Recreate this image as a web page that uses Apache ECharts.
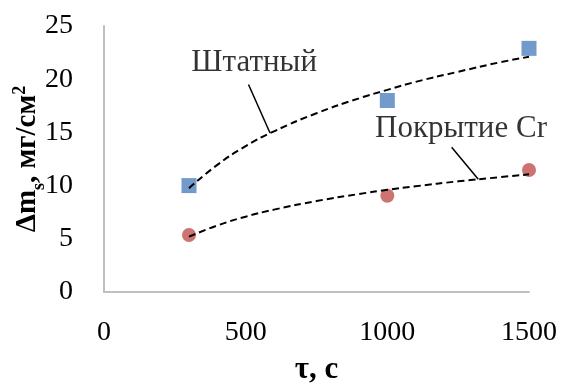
<!DOCTYPE html>
<html>
<head>
<meta charset="utf-8">
<script src="https://cdn.jsdelivr.net/npm/echarts@6/dist/echarts.min.js"></script>
<style>
  html, body { margin: 0; padding: 0; background: #fff; }
  #chart { width: 563px; height: 385px; }
</style>
</head>
<body>
<div id="chart"></div>
<script>
// Measured mass gain vs. exposure time
const timeS = [300, 1000, 1500];
const standardGain = [10, 18, 22.9];     // Штатный
const coatedGain = [5.36, 9.05, 11.47];  // Покрытие Cr

// Logarithmic trend curves, sampled along the time axis
const trendTime = [300, 400, 500, 600, 750, 900, 1000, 1100, 1250, 1400, 1500];
const standardTrend = [9.75, 11.95, 13.7, 15.1, 16.8, 18.2, 19.0, 19.75, 20.7, 21.6, 22.1];
const coatedTrend = [5.2, 6.25, 7.08, 7.74, 8.55, 9.21, 9.6, 9.94, 10.4, 10.8, 11.06];

// Series captions with their leader lines (data units)
const standardName = 'Штатный';
const coatedName = 'Покрытие Cr';
const standardLabelAt = [530, 21.5];
const standardLeader = [[510, 19.5], [586, 14.95]];
const coatedLabelAt = [1260, 15.3];
const coatedLeader = [[1227, 13.6], [1321, 10.6]];

const xTicks = [0, 500, 1000, 1500];
const yTicks = [0, 5, 10, 15, 20, 25];

const pair = (xs, ys) => xs.map((x, i) => [x, ys[i]]);
const serif = '"Liberation Serif", "Times New Roman", serif';

const chart = echarts.init(document.getElementById('chart'));

const axisCommon = {
  axisLine: { show: true, lineStyle: { color: '#bfbfbf', width: 2 } },
  axisTick: { show: false },
  splitLine: { show: false },
  axisLabel: { fontFamily: serif, fontSize: 28, color: '#000', formatter: (v) => String(v) }
};

chart.setOption({
  animation: false,
  backgroundColor: '#fff',
  grid: {
    left: 104, right: 34, top: 26, bottom: 93,
    containLabel: false, outerBoundsMode: 'none'
  },
  xAxis: Object.assign({}, axisCommon, {
    type: 'value',
    min: xTicks[0], max: xTicks[xTicks.length - 1], interval: 500,
    name: 'τ, с',
    nameLocation: 'middle',
    nameGap: 62,
    nameMoveOverlap: false,
    nameTextStyle: { fontFamily: serif, fontSize: 31, fontWeight: 'bold', color: '#000' },
    axisLabel: Object.assign({}, axisCommon.axisLabel, { margin: 27 })
  }),
  yAxis: Object.assign({}, axisCommon, {
    type: 'value',
    min: yTicks[0], max: yTicks[yTicks.length - 1], interval: 5,
    name: '{b|Δm}{sub|s}{b|, мг/см}{sup|2}',
    nameLocation: 'middle',
    nameRotate: 90,
    nameGap: 59,
    nameMoveOverlap: false,
    nameTextStyle: {
      fontFamily: serif, fontSize: 29, fontWeight: 'bold', color: '#000',
      rich: {
        b: { fontFamily: serif, fontSize: 29, fontWeight: 'bold', color: '#000', lineHeight: 34 },
        sub: { fontFamily: serif, fontSize: 18, fontWeight: 'bold', color: '#000', lineHeight: 34, verticalAlign: 'bottom', padding: [0, 0, -3, 0] },
        sup: { fontFamily: serif, fontSize: 18, fontWeight: 'bold', color: '#000', lineHeight: 34, verticalAlign: 'top', padding: [0, 0, 10, 0] }
      }
    },
    axisLabel: Object.assign({}, axisCommon.axisLabel, { margin: 31 })
  }),
  series: [
    {
      name: standardName, type: 'scatter', symbol: 'rect', symbolSize: 15,
      itemStyle: { color: '#4f81bd' }, data: pair(timeS, standardGain), z: 2
    },
    {
      name: coatedName, type: 'scatter', symbol: 'circle', symbolSize: 14,
      itemStyle: { color: '#c0504d' }, data: pair(timeS, coatedGain), z: 2
    },
    {
      type: 'line', smooth: true, symbol: 'none', silent: true, z: 3,
      lineStyle: { color: '#000', width: 2, type: [7, 4] },
      data: pair(trendTime, standardTrend)
    },
    {
      type: 'line', smooth: true, symbol: 'none', silent: true, z: 3,
      lineStyle: { color: '#000', width: 2, type: [7, 4] },
      data: pair(trendTime, coatedTrend)
    },
    {
      type: 'line', symbol: 'none', silent: true, z: 4,
      lineStyle: { color: '#000', width: 1.5 }, data: standardLeader
    },
    {
      type: 'line', symbol: 'none', silent: true, z: 4,
      lineStyle: { color: '#000', width: 1.5 }, data: coatedLeader
    },
    {
      type: 'scatter', symbolSize: 0, silent: true, z: 5,
      label: {
        show: true, position: 'inside', fontFamily: serif, fontSize: 31, color: '#000',
        formatter: (p) => p.data.name
      },
      data: [
        { name: standardName, value: standardLabelAt },
        { name: coatedName, value: coatedLabelAt }
      ]
    }
  ]
});
</script>
</body>
</html>
